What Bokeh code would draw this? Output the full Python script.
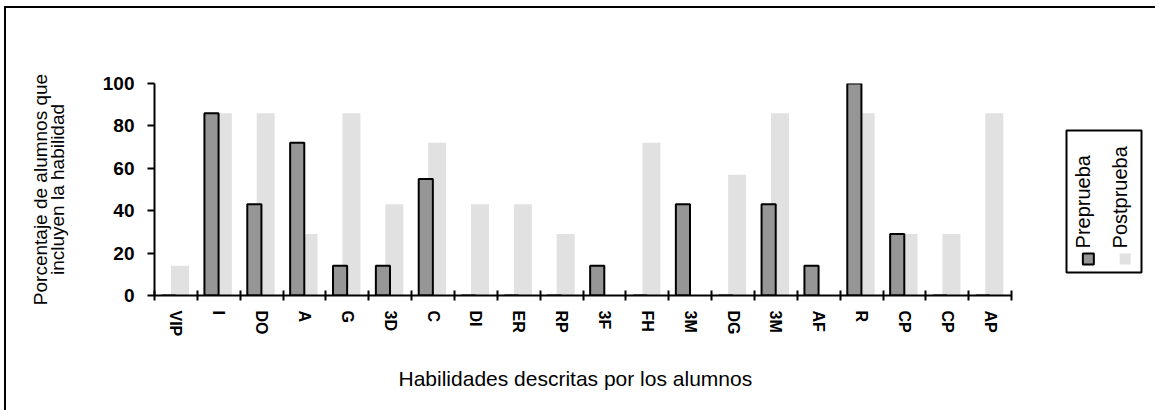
import numpy as np
from bokeh.plotting import figure
from bokeh.models import Range1d, FixedTicker, Title, BoxAnnotation, Label, ColumnDataSource
from bokeh.transform import dodge
from bokeh.embed import file_html
from bokeh.resources import INLINE

categories = ["VIP", "I", "DO", "A", "G", "3D", "C", "DI", "ER", "RP",
              "3F", "FH", "3M", "DG", "3M", "AF", "R", "CP", "CP", "AP"]
preprueba = [0, 86, 43, 72, 14, 14, 55, 0, 0, 0,
             14, 0, 43, 0, 43, 14, 100, 29, 0, 0]
postprueba = [14, 86, 86, 29, 86, 43, 72, 43, 43, 29,
              0, 72, 0, 57, 86, 0, 86, 29, 29, 86]
y_ticks = [0, 20, 40, 60, 80, 100]
series_names = ["Preprueba", "Postprueba"]

FONT = "Liberation Sans"
n = len(categories)
idx = list(range(n))
src = ColumnDataSource(dict(x=idx, pre=preprueba, post=postprueba))

p = figure(frame_width=996, frame_height=212,
           x_range=Range1d(0, 23.24), y_range=Range1d(0, 100),
           output_backend="svg", toolbar_location=None,
           min_border_left=148, min_border_right=5,
           min_border_top=75, min_border_bottom=115)
p.margin = (6, 0, 0, 4)
p.styles = {"border-left": "2px solid black", "border-top": "2px solid black"}
p.outline_line_color = None
p.xgrid.visible = False
p.ygrid.visible = False
p.background_fill_color = "white"
p.border_fill_color = "white"

# bars
p.vbar(x=dodge("x", 0.595), top="post", width=0.42, bottom=0, source=src,
       fill_color="#e1e1e1", line_color=None)
p.vbar(x=dodge("x", 0.33), top="pre", width=0.33, bottom=0, source=src,
       fill_color="#969696", line_color="black", line_width=2)

# x axis
xa = p.xaxis[0]
xa.bounds = (0, n)
xa.ticker = FixedTicker(ticks=[i + 0.5 for i in idx], minor_ticks=list(range(n + 1)))
xa.major_label_overrides = {i + 0.5: c for i, c in enumerate(categories)}
xa.major_tick_in = 0
xa.major_tick_out = 0
xa.major_tick_line_color = None
xa.minor_tick_in = 5
xa.minor_tick_out = 5
xa.minor_tick_line_width = 2
xa.minor_tick_line_color = "black"
xa.axis_line_width = 2
xa.axis_line_color = "black"
xa.major_label_orientation = "vertical"
xa.major_label_standoff = 10
xa.major_label_text_font = FONT
xa.major_label_text_font_style = "bold"
xa.major_label_text_font_size = "16px"
xa.major_label_text_color = "black"

# y axis
ya = p.yaxis[0]
ya.ticker = FixedTicker(ticks=y_ticks, minor_ticks=[])
ya.major_tick_in = 0
ya.major_tick_out = 7
ya.major_tick_line_width = 2
ya.major_tick_line_color = "black"
ya.axis_line_width = 2
ya.axis_line_color = "black"
ya.major_label_standoff = 13
ya.major_label_text_font = FONT
ya.major_label_text_font_style = "bold"
ya.major_label_text_font_size = "19px"
ya.major_label_text_color = "black"
ya.axis_label = "Porcentaje de alumnos que\nincluyen la habilidad"
ya.axis_label_text_font = FONT
ya.axis_label_text_font_style = "normal"
ya.axis_label_text_font_size = "19px"
ya.axis_label_text_line_height = 0.8
ya.axis_label_standoff = 32
ya.axis_label_text_color = "black"

# x title
t = Title(text="Habilidades descritas por los alumnos", align="left", offset=244,
          text_font=FONT, text_font_style="normal", text_font_size="21px",
          text_color="black", standoff=51)
p.add_layout(t, "below")

# legend (manual, rotated text)
p.add_layout(BoxAnnotation(left=21.28, right=23.03, top=77.8, bottom=10.8,
                           fill_color="white", fill_alpha=1.0, level="underlay",
                           line_color="black", line_width=2, line_alpha=1.0))
p.scatter(x=[21.79], y=[17.2], marker="square", size=11,
          fill_color="#969696", line_color="black", line_width=2)
p.scatter(x=[22.65], y=[17.2], marker="square", size=11,
          fill_color="#e1e1e1", line_color=None)
for xx, name in zip([21.66, 22.53], series_names):
    p.add_layout(Label(x=xx, y=22.2, text=name, angle=np.pi / 2,
                       text_align="left", text_baseline="middle",
                       text_font=FONT, text_font_size="20px", text_color="black"))

open("out.html", "w").write(file_html(p, INLINE))
